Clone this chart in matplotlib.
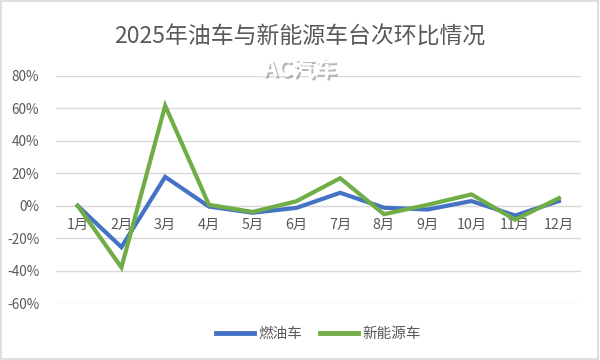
import matplotlib
matplotlib.use("Agg")
import matplotlib.pyplot as plt
import matplotlib.patheffects as pe
from matplotlib.patches import Rectangle
from matplotlib.ticker import FuncFormatter

plt.rcParams['font.family'] = ['Noto Sans CJK SC', 'DejaVu Sans']

months = ["1月", "2月", "3月", "4月", "5月", "6月", "7月", "8月", "9月", "10月", "11月", "12月"]
fuel = [0.0, -25.5, 17.8, -0.5, -4.3, -1.3, 8.0, -1.2, -2.3, 2.9, -6.0, 2.9]
nev = [0.0, -38.0, 61.7, 0.6, -3.8, 2.8, 17.0, -5.2, 0.6, 7.0, -8.6, 4.7]
title = "2025年油车与新能源车台次环比情况"
yticks = [-60, -40, -20, 0, 20, 40, 60, 80]

text_c = "#595959"
grid_c = "#D9D9D9"

fig = plt.figure(figsize=(6, 3.6), dpi=100)
ax = fig.add_axes([0.093, 0.158, 0.875, 0.631])

x = list(range(len(months)))
ax.plot(x, fuel, color="#4472C4", lw=3.0, solid_joinstyle="miter", label="燃油车", zorder=3)
ax.plot(x, nev, color="#70AD47", lw=3.0, solid_joinstyle="miter", label="新能源车", zorder=3)

ax.set_xlim(-0.5, len(months) - 0.5)
ax.set_ylim(-60, 80)
ax.set_yticks(yticks)
ax.yaxis.set_major_formatter(FuncFormatter(lambda v, p: f"{int(v)}%"))
ax.grid(axis="y", color=grid_c, lw=1)
ax.set_axisbelow(True)
ax.set_xticks(x)
ax.set_xticklabels(months)
for s in ["left", "right", "top"]:
    ax.spines[s].set_visible(False)
ax.spines["bottom"].set_position(("data", 0))
ax.spines["bottom"].set_color(grid_c)
ax.tick_params(axis="both", length=0, colors=text_c)
ax.tick_params(axis="x", pad=9, labelsize=10.3)
ax.tick_params(axis="y", pad=12, labelsize=9.8)

fig.text(0.5, 0.897, title, ha="center", va="center", fontsize=16.5, color=text_c)

wm = fig.text(0.5, 0.806, "AC汽车", ha="center", va="center", fontsize=16, color="white",
              fontweight="bold", zorder=10)
wm.set_path_effects([pe.withSimplePatchShadow(offset=(1.5, -1.5), shadow_rgbFace="#888888", alpha=0.6), pe.Normal()])

leg = ax.legend(loc="center", bbox_to_anchor=(0.5, -0.135), bbox_transform=ax.transAxes,
                ncol=2, frameon=False, fontsize=10.5, handlelength=2.6, columnspacing=1.2,
                handletextpad=0.3)
for t in leg.get_texts():
    t.set_color(text_c)
for h in leg.get_lines():
    h.set_linewidth(3.5)

fig.add_artist(Rectangle((0.002, 0.003), 0.994, 0.993, transform=fig.transFigure,
                         fill=False, edgecolor=grid_c, lw=1.2))

fig.savefig("out.png", dpi=100, facecolor="white")
